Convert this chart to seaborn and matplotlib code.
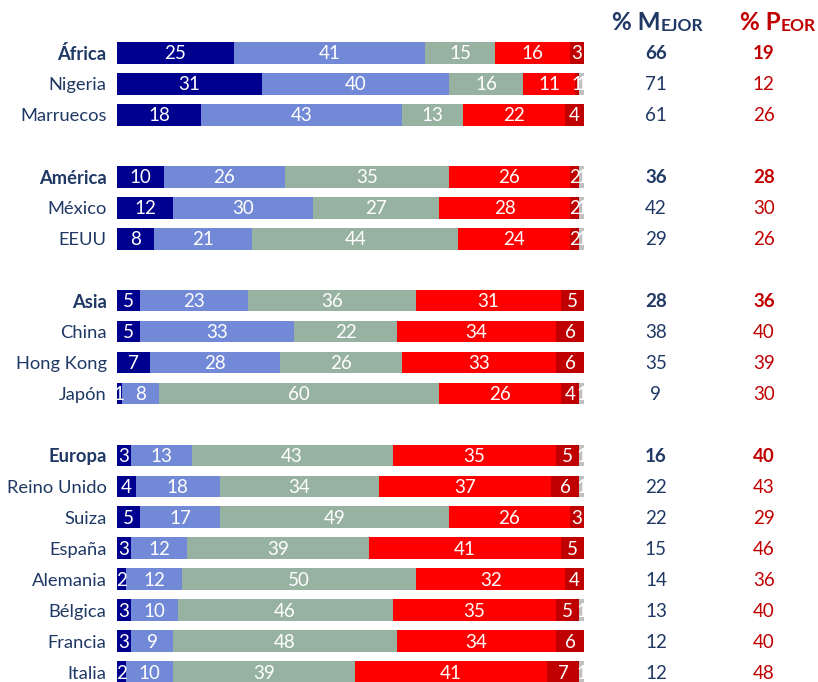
import pandas as pd
import matplotlib.pyplot as plt
import seaborn as sns

paises = ["África", "Nigeria", "Marruecos", "América", "México", "EEUU",
          "Asia", "China", "Hong Kong", "Japón", "Europa", "Reino Unido",
          "Suiza", "España", "Alemania", "Bélgica", "Francia", "Italia"]
regiones = ["África", "América", "Asia", "Europa"]
orden = ["África", "Nigeria", "Marruecos", " ",
         "América", "México", "EEUU", "  ",
         "Asia", "China", "Hong Kong", "Japón", "   ",
         "Europa", "Reino Unido", "Suiza", "España", "Alemania", "Bélgica", "Francia", "Italia"]

mucho_mejor = [25, 31, 18, 10, 12, 8, 5, 5, 7, 1, 3, 4, 5, 3, 2, 3, 3, 2]
mejor = [41, 40, 43, 26, 30, 21, 23, 33, 28, 8, 13, 18, 17, 12, 12, 10, 9, 10]
igual = [15, 16, 13, 35, 27, 44, 36, 22, 26, 60, 43, 34, 49, 39, 50, 46, 48, 39]
peor = [16, 11, 22, 26, 28, 24, 31, 34, 33, 26, 35, 37, 26, 41, 32, 35, 34, 41]
mucho_peor = [3, 1, 4, 2, 2, 2, 5, 6, 6, 4, 5, 6, 3, 5, 4, 5, 6, 7]
ns_nc = [0, 1, 0, 1, 1, 1, 0, 0, 0, 1, 1, 1, 0, 0, 0, 1, 0, 1]

pct_mejor = [66, 71, 61, 36, 42, 29, 28, 38, 35, 9, 16, 22, 22, 15, 14, 13, 12, 12]
pct_peor = [19, 12, 26, 28, 30, 26, 36, 40, 39, 30, 40, 43, 29, 46, 36, 40, 40, 48]

series = [mucho_mejor, mejor, igual, peor, mucho_peor, ns_nc]
colores = ["#00008E", "#7189D6", "#97B2A0", "#FF0000", "#C00000", "#C0C0C0"]
azul = "#1F3864"
rojo = "#C00000"

df = pd.DataFrame({"pais": paises})
acum = [0] * len(paises)
for i, s in enumerate(series):
    acum = [a + v for a, v in zip(acum, s)]
    df[f"c{i}"] = acum

plt.rcParams["font.family"] = ["Lato", "DejaVu Sans"]
fig = plt.figure(figsize=(8.18, 6.82), dpi=100)
ax = fig.add_axes([117 / 818, 0, (584 - 117) / 818, 1])

# stacked bars: draw cumulative totals from the largest to the smallest
for i in range(len(series) - 1, -1, -1):
    sns.barplot(data=df, x=f"c{i}", y="pais", order=orden, orient="y",
                color=colores[i], saturation=1, width=0.7, linewidth=0,
                errorbar=None, ax=ax)

pos = {p: orden.index(p) for p in paises}
for j, p in enumerate(paises):
    y = pos[p] + 0.03
    izq = 0
    for s in series:
        v = s[j]
        if v > 0:
            ax.text(izq + v / 2, y, str(v), ha="center", va="center",
                    color="white", fontsize=13.5)
        izq += v
    peso = "bold" if p in regiones else "normal"
    ax.text(115.4, y, str(pct_mejor[j]), ha="center", va="center",
            color=azul, fontsize=13.5, fontweight=peso)
    ax.text(138.5, y, str(pct_peor[j]), ha="center", va="center",
            color=rojo, fontsize=13.5, fontweight=peso)

# small-caps headers
for x0, a, b, c in [(106.0, "% M", "EJOR", azul), (133.4, "% P", "EOR", rojo)]:
    t = ax.text(x0, -0.75, a, ha="left", va="baseline", color=c,
                fontsize=17.5, fontweight="bold")
    ax.annotate(b, xy=(1, 0), xycoords=t, ha="left", va="bottom",
                color=c, fontsize=12.5, fontweight="bold")

ax.set_xlim(0, 100)
ax.set_ylim(20.32, -1.712)
ax.set_xlabel("")
ax.set_ylabel("")
ax.set_xticks([])
ax.tick_params(axis="y", length=0, pad=7.5, labelsize=13.2, labelcolor=azul)
for lab in ax.get_yticklabels():
    if lab.get_text() in regiones:
        lab.set_fontweight("bold")
for sp in ax.spines.values():
    sp.set_visible(False)

fig.savefig("out.png", dpi=100, facecolor="white")
